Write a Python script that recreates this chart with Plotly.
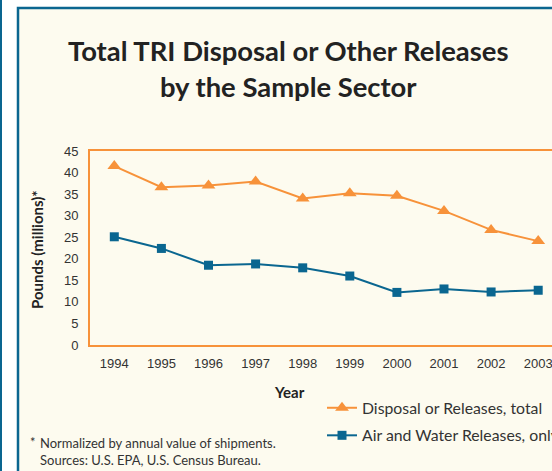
import plotly.graph_objects as go

years = [1994, 1995, 1996, 1997, 1998, 1999, 2000, 2001, 2002, 2003]
total = [41.5, 36.6, 37.0, 37.9, 34.0, 35.2, 34.6, 31.1, 26.7, 24.1]
air_water = [25.1, 22.4, 18.5, 18.8, 17.9, 16.0, 12.2, 13.0, 12.3, 12.7]
y_ticks = [0, 5, 10, 15, 20, 25, 30, 35, 40, 45]

ORANGE = "#f7923a"
BLUE = "#0a6690"
CREAM = "#fdfbef"
TEXT = "#333333"

W, H = 552, 471
ML, MR, MT, MB = 90, 0, 151, 126
PW, PH = W - ML - MR, H - MT - MB


def px_x(p):
    return (p - ML) / PW


def px_y(p):
    return (H - MB - p) / PH


fig = go.Figure()
fig.add_trace(go.Scatter(
    x=years, y=total, mode="lines+markers", name="Disposal or Releases, total",
    line=dict(color=ORANGE, width=2),
    marker=dict(symbol="triangle-up", size=12, color=ORANGE),
    legendgroup="a"))
fig.add_trace(go.Scatter(
    x=years, y=air_water, mode="lines+markers", name="Air and Water Releases, only",
    line=dict(color=BLUE, width=2),
    marker=dict(symbol="square", size=9, color=BLUE),
    legendgroup="b"))

shapes = [
    # outer left rule
    dict(type="line", xref="paper", yref="paper", x0=px_x(1), x1=px_x(1),
         y0=px_y(H + 20), y1=px_y(-20), line=dict(color=BLUE, width=2), layer="below"),
    # cream box
    dict(type="rect", xref="paper", yref="paper", x0=px_x(18), x1=px_x(W + 30),
         y0=px_y(H + 30), y1=px_y(8), line=dict(color=BLUE, width=2.5),
         fillcolor=CREAM, layer="below"),
]

annotations = [
    dict(text="Total TRI Disposal or Other Releases<br>by the Sample Sector",
         xref="paper", yref="paper", x=px_x(288), y=px_y(68), xanchor="center",
         yanchor="middle", showarrow=False, align="center",
         font=dict(family="Lato", size=27.4, color="#222222", weight="bold")),
    dict(text="Pounds (millions)*", xref="paper", yref="paper", x=px_x(37),
         y=px_y(250), textangle=-90, showarrow=False, xanchor="center", yanchor="middle",
         font=dict(family="Lato", size=15, color="#222222", weight="bold")),
    dict(text="Year", xref="paper", yref="paper", x=px_x(289), y=px_y(392),
         showarrow=False, xanchor="center", yanchor="middle",
         font=dict(family="Lato", size=15, color="#222222", weight="bold")),
    dict(text="*", xref="paper", yref="paper", x=px_x(28), y=px_y(442),
         showarrow=False, xanchor="left", yanchor="middle",
         font=dict(family="Lato", size=13, color=TEXT)),
    dict(text="Normalized by annual value of shipments.<br>Sources: U.S. EPA, U.S. Census Bureau.",
         xref="paper", yref="paper", x=px_x(38), y=px_y(451.5),
         showarrow=False, xanchor="left", yanchor="middle", align="left",
         font=dict(family="Lato", size=13, color=TEXT)),
]

fig.update_layout(
    width=W, height=H,
    margin=dict(l=ML, r=MR, t=MT, b=MB, autoexpand=False),
    paper_bgcolor="white", plot_bgcolor="rgba(0,0,0,0)",
    shapes=shapes, annotations=annotations,
    showlegend=True,
    legend=dict(x=px_x(322), y=px_y(391), xanchor="left", yanchor="top",
                bgcolor="rgba(0,0,0,0)", tracegroupgap=4, traceorder="grouped",
                font=dict(family="Lato", size=15.8, color=TEXT)),
    xaxis=dict(range=[1993.484, 2003.293], tickmode="array", tickvals=years,
               ticktext=[str(y) for y in years], showgrid=False, zeroline=False,
               showline=True, linecolor=ORANGE, linewidth=2, mirror=True,
               ticks="", ticklabelstandoff=5, ticklabeloverflow="allow",
               tickfont=dict(family="Liberation Sans", size=13, color=TEXT)),
    yaxis=dict(range=[0, 45], tickmode="array", tickvals=y_ticks,
               showgrid=False, zeroline=False, showline=True, linecolor=ORANGE,
               linewidth=2, ticks="", ticklabelstandoff=7,
               tickfont=dict(family="Liberation Sans", size=13, color=TEXT)),
)

fig.write_html(
    "out.html",
    config={"displayModeBar": False},
    post_script="document.body.style.margin='0';document.body.style.overflow='hidden';",
)
